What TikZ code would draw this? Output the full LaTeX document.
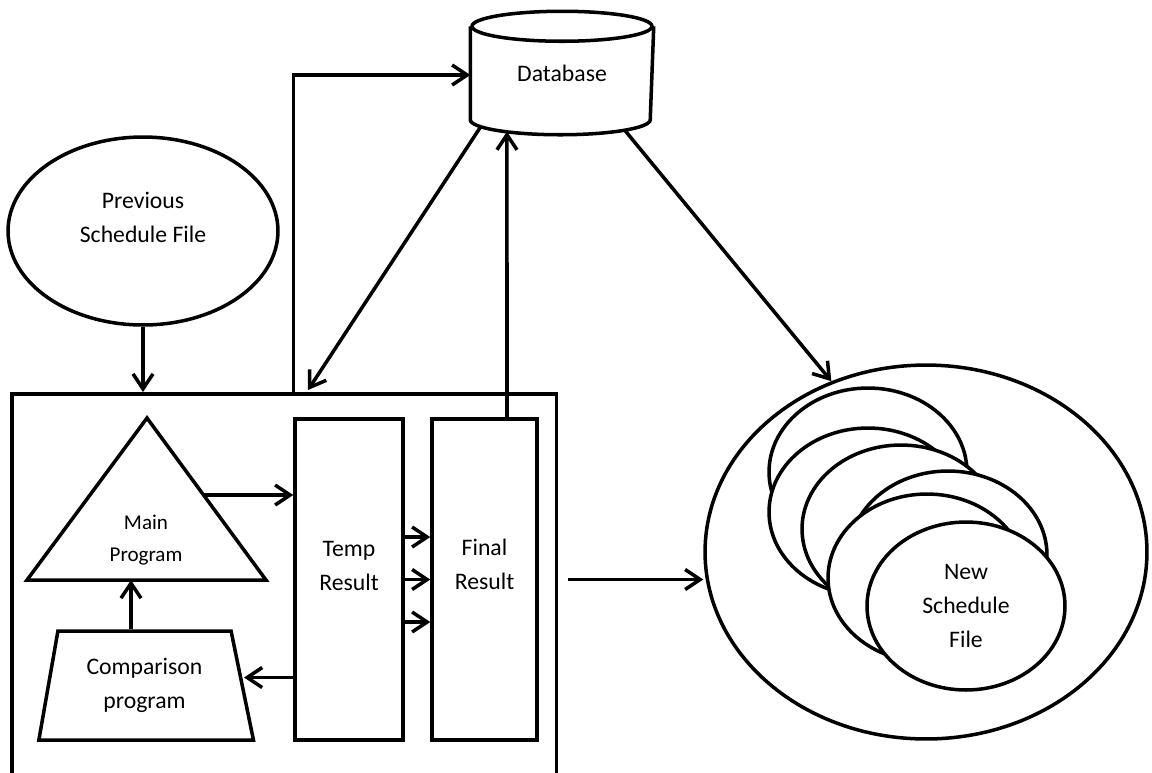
\documentclass[tikz,border=0pt]{standalone}
\usepackage{fontspec}
\setmainfont{Carlito}
\usetikzlibrary{shapes.geometric, arrows.meta, positioning}

\begin{document}
\begin{tikzpicture}[
        x=0.02cm, y=-0.02cm,
        line width=2pt,
        every node/.style={font=\fontsize{13.5}{19.3}\selectfont, align=center},
        block/.style={rectangle, draw, minimum width=2.16cm, minimum height=6.42cm},
        oval/.style={ellipse, draw, fill=white},
        arrow/.style={->, >={Straight Barb[length=3mm, width=4mm]}}
    ]

        \useasboundingbox (0,0) rectangle (1152,772);
        \clip (0,0) rectangle (1152,772);

        % database drum: body between the two rim ellipses
        \node[minimum width=3.6cm, minimum height=1.8cm] (db) at (562,73) {Database};
        \draw (db.north west) -- (db.south west) arc[start angle=180, end angle=360, x radius=1.8cm, y radius=0.3cm] -- (db.north east);
        \draw (db.north) ellipse [x radius=1.8cm, y radius=0.3cm];

        \node[oval, minimum width=5.4cm, minimum height=3.76cm] (prev) at (143,231) {};
        \node (prevtxt) at (143,217) {Previous\\Schedule File};

        % program box
        \node[draw, rectangle, minimum width=10.9cm, minimum height=8cm, anchor=north west] (sys) at (10,392) {};

        \coordinate (apex) at (147,418);
        \coordinate (baseL) at (27,580);
        \coordinate (baseR) at (266,580);
        \draw[line join=miter] (apex) -- (baseR) -- (baseL) -- cycle;
        \node[font=\fontsize{12}{18.1}\selectfont] (main) at (146,540) {Main\\Program};

        \node[trapezium, draw, trapezium left angle=78, trapezium right angle=76, trapezium stretches=true, minimum width=4.3cm, minimum height=2.18cm] (comp) at (144.5,685.5) {Comparison\\program};

        \node[block] (temp) at (349,579.5) {};
        \node (temptxt) at (349,566) {Temp\\Result};
        \node[block, minimum width=2.1cm] (final) at (484.5,579.5) {};
        \node (finaltxt) at (484.5,564) {Final\\Result};

        % schedule files
        \node[oval, minimum width=8.84cm, minimum height=7.48cm] (out) at (926,552) {};
        \foreach \cx/\cy in {868/472, 868/512, 901/529, 948/555, 927/578}
            \draw[fill=white] (\cx,\cy) ellipse [x radius=1.98cm, y radius=1.68cm];
        \node[oval, minimum width=3.96cm, minimum height=3.36cm] (newfile) at (966,606) {New\\Schedule\\File};

        \coordinate (mainR) at (204,495);
        \coordinate (mainB) at (131,580);
        \coordinate (dbin) at (308,390);

        \draw[arrow] (prev.south) -- (prev.south |- sys.north);
        \draw[arrow] (temp.west |- sys.north) |- ([yshift=-0.04cm]db.west);
        \draw[arrow] ([shift={(205.8:1.8cm and 0.3cm)}]db.south) -- (dbin);
        \draw[arrow] ([xshift=0.45cm]final.north) -- ([shift={(232.3:1.8cm and 0.3cm)}]db.south);
        \draw[arrow] ([shift={(314.4:1.8cm and 0.3cm)}]db.south) -- (out.119);
        \draw[arrow] ([xshift=0.2cm]final.center -| sys.east) -- (final.center -| out.west);
        \draw[arrow] (mainR) -- (mainR -| temp.west);
        \draw[arrow] (comp.north -| mainB) -- (mainB);
        \draw[arrow] ([yshift=0.16cm]temp.west |- comp.east) -- ([yshift=0.16cm]comp.east);
        \foreach \s in {0.85,0,-0.85}
            \draw[arrow] ([yshift=\s cm]temp.east) -- ([yshift=\s cm]final.west);

    \end{tikzpicture}
\end{document}
